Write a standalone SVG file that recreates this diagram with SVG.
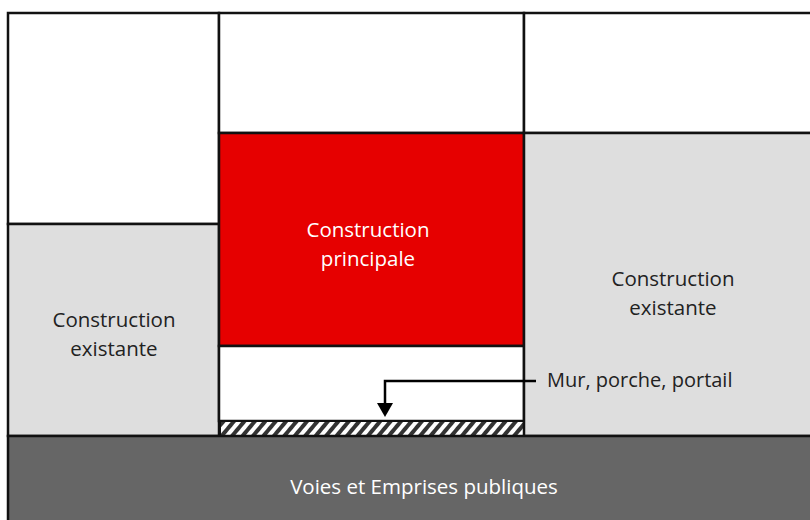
<svg xmlns="http://www.w3.org/2000/svg" width="810" height="520" viewBox="0 0 810 520">
<defs>
<style>
.b{stroke:#111;stroke-width:2.5}
.t{font-family:"Open Sans","Liberation Sans",sans-serif;font-size:20.5px;text-anchor:middle}
</style>
<pattern id="h" patternUnits="userSpaceOnUse" width="8" height="8" patternTransform="rotate(40)">
<rect width="8" height="8" fill="#fff"/>
<rect width="4" height="8" fill="#333"/>
</pattern>
</defs>
<rect width="810" height="520" fill="#fff"/>
<g id="left-top"><rect x="8" y="13" width="211" height="211" fill="#fff" class="b"/></g>
<g id="left-existing"><rect x="8" y="224" width="211" height="212" fill="#dedede" class="b"/>
<text class="t" x="114" y="327" fill="#222">Construction</text><text class="t" x="114" y="356" fill="#222">existante</text></g>
<g id="mid-top"><rect x="219" y="13" width="305" height="120" fill="#fff" class="b"/></g>
<g id="main"><rect x="219" y="133" width="305" height="213" fill="#e60000" class="b"/>
<text class="t" x="368" y="237" fill="#fff">Construction</text><text class="t" x="368" y="266" fill="#fff">principale</text></g>
<g id="mid-bottom"><rect x="219" y="346" width="305" height="75" fill="#fff" class="b"/></g>
<g id="wall"><rect x="220" y="421" width="304" height="15" fill="url(#h)" stroke="#111" stroke-width="2"/></g>
<g id="right-top"><rect x="524" y="13" width="290" height="120" fill="#fff" class="b"/></g>
<g id="right-existing"><rect x="524" y="133" width="290" height="303" fill="#dedede" class="b"/>
<text class="t" x="673" y="286" fill="#222">Construction</text><text class="t" x="673" y="315" fill="#222">existante</text></g>
<g id="road"><rect x="8" y="436" width="806" height="90" fill="#666" class="b"/>
<text class="t" x="424" y="494" fill="#fff">Voies et Emprises publiques</text></g>
<g id="connectors">
<polyline points="536,381 385,381 385,404" fill="none" stroke="#000" stroke-width="2.5"/>
<polygon points="377,403 393,403 385,417" fill="#000"/>
</g>
<text x="547" y="387" font-family="Open Sans, Liberation Sans, sans-serif" font-size="20" fill="#222">Mur, porche, portail</text>
</svg>
